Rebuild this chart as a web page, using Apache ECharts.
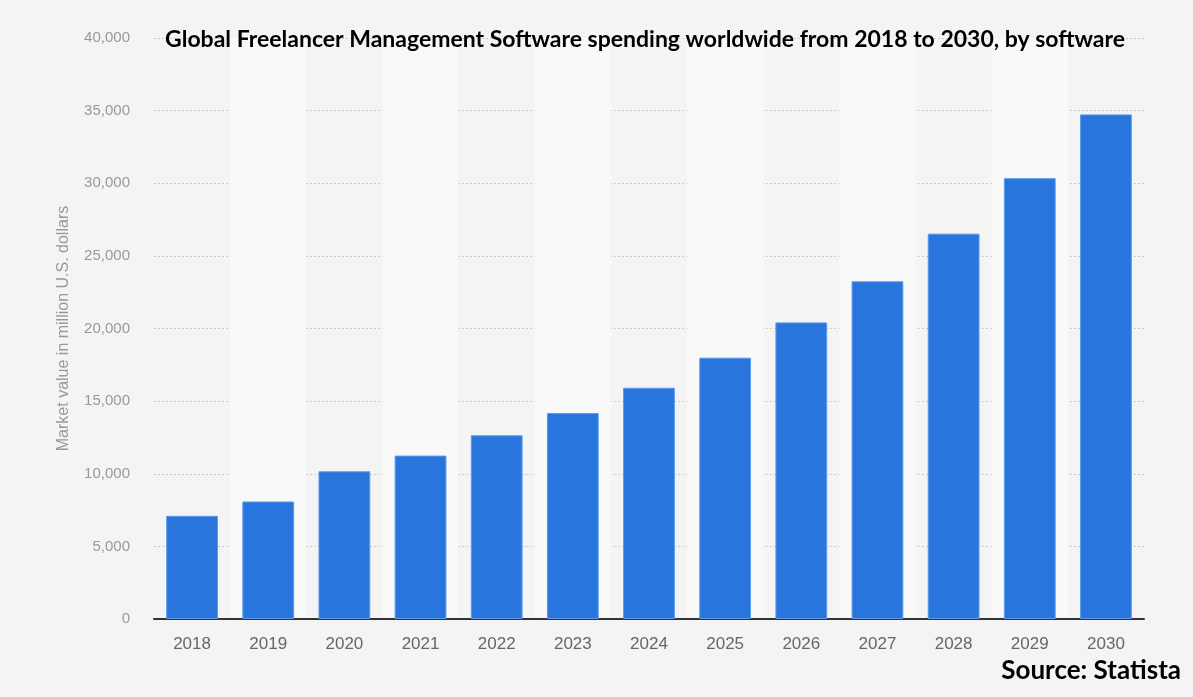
<!DOCTYPE html>
<html>
<head>
<meta charset="utf-8">
<script src="https://cdn.jsdelivr.net/npm/echarts@6/dist/echarts.min.js"></script>
<style>
  html, body { margin: 0; padding: 0; background: #f4f4f4; }
  #chart { width: 1193px; height: 697px; }
</style>
</head>
<body>
<div id="chart"></div>
<script>
const years  = ["2018", "2019", "2020", "2021", "2022", "2023", "2024", "2025", "2026", "2027", "2028", "2029", "2030"];
const values = [7100, 8090, 10170, 11250, 12650, 14180, 15920, 17990, 20420, 23250, 26530, 30350, 34740];
const yTicks = { min: 0, max: 40000, step: 5000 };

const chart = echarts.init(document.getElementById("chart"));

chart.setOption({
  backgroundColor: "#f4f4f4",
  animation: false,
  title: [
    {
      text: "Global Freelancer Management Software spending worldwide from 2018 to 2030, by software",
      left: 640, top: 23, textAlign: "center",
      textStyle: { fontFamily: "Lato", fontWeight: "bold", fontSize: 23, color: "#000" },
    },
    {
      text: "Source: Statista",
      right: 7, top: 653,
      textStyle: { fontFamily: "Lato", fontWeight: "bold", fontSize: 26, color: "#000" },
    },
  ],
  grid: { left: 154, right: 49, top: 38, bottom: 78 },
  xAxis: {
    type: "category",
    data: years,
    axisTick: { show: false },
    axisLine: { lineStyle: { color: "#333", width: 2 } },
    axisLabel: { color: "#666", fontSize: 17, fontFamily: "Arial", margin: 17 },
    splitArea: { show: true, areaStyle: { color: ["rgba(0,0,0,0)", "#f9f9f9"] } },
  },
  yAxis: {
    type: "value",
    min: yTicks.min, max: yTicks.max, interval: yTicks.step,
    name: "Market value in million U.S. dollars",
    nameLocation: "middle", nameRotate: 90, nameGap: 82,
    nameTextStyle: { color: "#999", fontSize: 16, fontFamily: "Arial" },
    axisLine: { show: false },
    axisTick: { show: false },
    axisLabel: {
      color: "#999", fontSize: 15, fontFamily: "Arial", margin: 24,
      formatter: v => v.toLocaleString("en-US"),
    },
    splitLine: { lineStyle: { color: "#ccc", type: [2, 2], width: 1 } },
  },
  series: [{
    type: "bar",
    data: values,
    barWidth: "68%",
    itemStyle: { color: "#2876dd", borderColor: "#5b9ae9", borderWidth: 1 },
  }],
});
</script>
</body>
</html>
